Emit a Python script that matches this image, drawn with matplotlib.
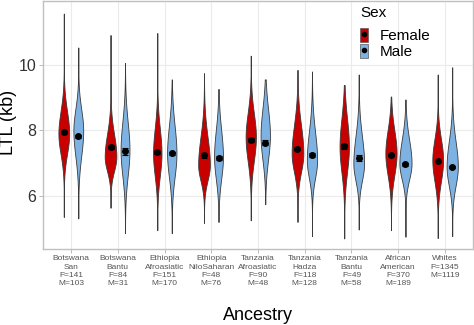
import numpy as np
import matplotlib
matplotlib.use("Agg")
import matplotlib.pyplot as plt
from matplotlib.patches import Patch
from matplotlib.lines import Line2D

plt.rcParams['font.family'] = ['Liberation Sans', 'DejaVu Sans']

groups = ["Botswana\nSan", "Botswana\nBantu", "Ethiopia\nAfroasiatic", "Ethiopia\nNiloSaharan",
          "Tanzania\nAfroasiatic", "Tanzania\nHadza", "Tanzania\nBantu", "African\nAmerican", "Whites"]
n_female = [141, 84, 151, 48, 90, 118, 49, 370, 1345]
n_male = [103, 31, 170, 76, 48, 128, 58, 189, 1119]

# mean LTL (kb) and standard error per group
female_mean = [7.94, 7.49, 7.34, 7.24, 7.70, 7.45, 7.52, 7.24, 7.06]
female_se = [0.05, 0.06, 0.05, 0.07, 0.06, 0.05, 0.08, 0.03, 0.015]
male_mean = [7.82, 7.37, 7.30, 7.17, 7.63, 7.25, 7.16, 6.97, 6.89]
male_se = [0.05, 0.11, 0.05, 0.06, 0.07, 0.05, 0.08, 0.04, 0.02]

# distribution summaries: range, density mode, spread above/below the mode, violin width at mode
female_lo = [5.37, 5.65, 4.97, 5.19, 5.27, 5.22, 4.72, 4.97, 4.73]
female_hi = [11.55, 10.90, 10.96, 9.74, 10.27, 9.84, 9.38, 9.03, 9.70]
female_mode = [7.9, 7.2, 7.3, 6.95, 7.8, 7.3, 7.5, 7.3, 7.1]
female_sd_up = [0.68, 0.68, 0.76, 0.85, 0.72, 0.85, 0.85, 0.70, 0.64]
female_sd_dn = [0.61, 0.43, 0.68, 0.47, 0.72, 0.56, 0.76, 0.65, 0.64]
female_width = [0.23, 0.25, 0.18, 0.25, 0.22, 0.25, 0.20, 0.24, 0.23]

male_lo = [5.33, 4.88, 4.88, 5.22, 5.76, 4.79, 4.99, 4.77, 4.79]
male_hi = [10.52, 10.05, 9.55, 9.26, 9.55, 9.79, 9.70, 8.94, 9.92]
male_mode = [8.0, 7.4, 7.3, 7.2, 7.85, 7.1, 7.0, 7.0, 6.9]
male_sd_up = [0.64, 0.85, 0.85, 0.81, 0.80, 0.85, 0.82, 0.72, 0.77]
male_sd_dn = [0.77, 0.77, 0.72, 0.67, 0.73, 0.54, 0.52, 0.49, 0.58]
male_width = [0.21, 0.19, 0.20, 0.19, 0.20, 0.22, 0.23, 0.26, 0.24]

RED = "#c80000"
BLUE = "#7db2e3"
DODGE = 0.155


def draw_violin(ax, x, lo, hi, mode, sd_up, sd_dn, width, color):
    yy = np.linspace(lo, hi, 300)
    sd = np.where(yy >= mode, sd_up, sd_dn)
    half = 0.5 * width * np.exp(-0.5 * ((yy - mode) / sd) ** 2)
    ax.fill_betweenx(yy, x - half, x + half, facecolor=color,
                     edgecolor="#3a3a3a", linewidth=0.6, zorder=3)


fig = plt.figure(figsize=(4.74, 3.25), dpi=100)
ax = fig.add_axes([43 / 474, 76 / 325, 430 / 474, 248 / 325])

pos = np.arange(1, len(groups) + 1)
for i, x in enumerate(pos):
    draw_violin(ax, x - DODGE, female_lo[i], female_hi[i], female_mode[i],
                female_sd_up[i], female_sd_dn[i], female_width[i], RED)
    draw_violin(ax, x + DODGE, male_lo[i], male_hi[i], male_mode[i],
                male_sd_up[i], male_sd_dn[i], male_width[i], BLUE)

ax.errorbar(pos - DODGE, female_mean, yerr=female_se, fmt="o", color="black",
            ms=4, capsize=2, elinewidth=0.8, capthick=0.8, zorder=5)
ax.errorbar(pos + DODGE, male_mean, yerr=male_se, fmt="o", color="black",
            ms=4, capsize=2, elinewidth=0.8, capthick=0.8, zorder=5)

ax.set_xlim(0.4, 9.6)
ax.set_ylim(4.4, 11.93)
ax.set_yticks([6, 8, 10])
ax.set_xticks(pos)
ax.set_xticklabels([f"{g}\nF={f}\nM={m}" for g, f, m in zip(groups, n_female, n_male)],
                   fontsize=6, color="#555555", linespacing=1.27)
ax.tick_params(axis="y", labelsize=11.5, length=3, width=0.6, colors="#b0b0b0",
               labelcolor="#333333", pad=2)
ax.tick_params(axis="x", length=3, width=0.6, colors="#b0b0b0", labelcolor="#555555", pad=1.5)

ax.grid(True, color="#ebebeb", linewidth=0.8, zorder=0)
ax.set_axisbelow(True)
for sp in ax.spines.values():
    sp.set_color("#c0c0c0")
    sp.set_linewidth(1.0)

ax.set_ylabel("LTL (kb)", fontsize=13)
ax.yaxis.set_label_coords((17.5 - 43) / 430, 0.512)
ax.set_xlabel("Ancestry", fontsize=13, labelpad=14)

# legend keys: filled box with the mean point drawn on top
handles = [(Patch(facecolor=RED, edgecolor="#5a5a5a", linewidth=0.5),
            Line2D([], [], marker="o", color="black", ms=3, linestyle="none")),
           (Patch(facecolor=BLUE, edgecolor="#5a5a5a", linewidth=0.5),
            Line2D([], [], marker="o", color="black", ms=3, linestyle="none"))]
leg = ax.legend(handles, ["Female", "Male"], fontsize=11,
                loc="upper left", bbox_to_anchor=(360 / 474, 1 - 28 / 325),
                bbox_transform=fig.transFigure, frameon=False, borderpad=0,
                handlelength=0.55, handleheight=1.0, handletextpad=0.75,
                labelspacing=0.05, borderaxespad=0)
fig.text(360 / 474, 1 - 13 / 325, "Sex", fontsize=11, ha="left", va="center")

fig.savefig("out.png", dpi=100)
